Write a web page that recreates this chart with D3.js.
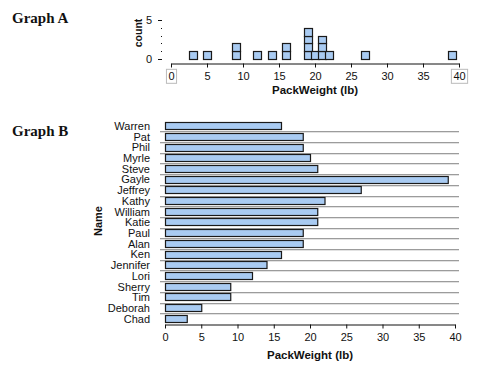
<!DOCTYPE html>
<html>
<head>
<meta charset="utf-8">
<script src="https://cdn.jsdelivr.net/npm/d3@7"></script>
<style>
  body { margin: 0; background: #fff; }
  svg { display: block; }
  text { font-family: 'Liberation Sans', Arial, sans-serif; fill: #111; }
  .ttl { font-family: 'Liberation Serif', 'Times New Roman', serif; font-weight: bold; font-size: 15px; }
</style>
</head>
<body>
<div class="chart"></div>
<script>
var names = ['Warren', 'Pat', 'Phil', 'Myrle', 'Steve', 'Gayle', 'Jeffrey', 'Kathy', 'William', 'Katie',
  'Paul', 'Alan', 'Ken', 'Jennifer', 'Lori', 'Sherry', 'Tim', 'Deborah', 'Chad']
var weights = [16, 19, 19, 20, 21, 39, 27, 22, 21, 21, 19, 19, 16, 14, 12, 9, 9, 5, 3]
var xTicks = [0, 5, 10, 15, 20, 25, 30, 35, 40]
var countTicks = [0, 5]
var countMinor = [1, 2, 3, 4]

var fill = '#a9cbf2', edge = '#1a1a1a'

var svg = d3.select('.chart').append('svg').attr('width', 479).attr('height', 387)

// ---- titles ----
svg.append('text').attr('class', 'ttl').attr('x', 12).attr('y', 23).text('Graph A')
svg.append('text').attr('class', 'ttl').attr('x', 12).attr('y', 136).text('Graph B')

// ============ GRAPH A: dot plot of squares ============
var xa = d3.scaleLinear().domain([0, 40]).range([171, 459])
var ya = d3.scaleLinear().domain([0, 5]).range([59, 20])

var gA = svg.append('g')
var axA = gA.append('g').attr('transform', 'translate(0,63.5)')
  .call(d3.axisBottom(xa).tickValues(xTicks).tickSize(4).tickSizeOuter(0).tickPadding(5))
axA.select('.domain').attr('stroke', '#111')
axA.selectAll('.tick line').attr('stroke', '#111')
axA.selectAll('.tick text').attr('font-size', 11).attr('font-family', 'Liberation Sans, Arial, sans-serif').attr('fill', '#111')
// editable bounds get a grey box in the original
axA.selectAll('.tick').filter(function(d){ return d == 0 || d == 40 }).each(function(){
  var t = d3.select(this).select('text')
  var b = t.node().getBBox()
  d3.select(this).insert('rect', 'text')
    .attr('x', b.x - 2).attr('y', b.y - 1).attr('width', b.width + 4).attr('height', b.height + 2)
    .attr('fill', '#fff').attr('stroke', '#bbb')
})

// count axis: no spine, major ticks + dotted minors
gA.selectAll('line.cmaj').data(countTicks).enter().append('line')
  .attr('x1', 158).attr('x2', 162).attr('y1', function(d){ return ya(d) + 0.5 }).attr('y2', function(d){ return ya(d) + 0.5 })
  .attr('stroke', '#111')
gA.selectAll('rect.cmin').data(countMinor).enter().append('rect')
  .attr('x', 161).attr('y', function(d){ return Math.round(ya(d)) }).attr('width', 1).attr('height', 1)
  .attr('fill', '#111')
gA.selectAll('text.clab').data(countTicks).enter().append('text')
  .attr('x', 152).attr('y', function(d){ return ya(d) + 4 }).attr('text-anchor', 'end')
  .attr('font-size', 11).text(function(d){ return d })
gA.append('text').attr('transform', 'translate(142,33) rotate(-90)').attr('text-anchor', 'middle')
  .attr('font-size', 10.5).attr('font-weight', 'bold').text('count')
gA.append('text').attr('x', 315).attr('y', 94).attr('text-anchor', 'middle')
  .attr('font-size', 11.5).attr('font-weight', 'bold').text('PackWeight (lb)')

// stack one square per person at its weight
var seen = {}
var squares = weights.map(function(w){
  seen[w] = (seen[w] || 0) + 1
  return {w: w, k: seen[w]}
})
gA.selectAll('rect.sq').data(squares).enter().append('rect')
  .attr('x', function(d){ return Math.round(xa(d.w) - 4) + 0.5 })
  .attr('y', function(d){ return Math.round(ya(d.k)) + 0.5 })
  .attr('width', 8).attr('height', function(d){ return Math.round(ya(d.k - 1)) - Math.round(ya(d.k)) })
  .attr('fill', fill).attr('stroke', edge).attr('stroke-width', 1.2)

// ============ GRAPH B: horizontal bars ============
var xb = d3.scaleLinear().domain([0, 40]).range([165, 455])
var yb = d3.scaleBand().domain(names).range([120.6, 324])

var gB = svg.append('g')
// row separators (all but last, which sits on the axis)
var sep = names.slice(0, -1)
gB.selectAll('line.g1').data(sep).enter().append('line')
  .attr('x1', 160).attr('x2', 459)
  .attr('y1', function(d){ return Math.round(yb(d) + yb.bandwidth()) + 0.5 })
  .attr('y2', function(d){ return Math.round(yb(d) + yb.bandwidth()) + 0.5 })
  .attr('stroke', '#9c9c9c')
gB.selectAll('line.g2').data(sep).enter().append('line')
  .attr('x1', 160).attr('x2', 459)
  .attr('y1', function(d){ return Math.round(yb(d) + yb.bandwidth()) + 1.5 })
  .attr('y2', function(d){ return Math.round(yb(d) + yb.bandwidth()) + 1.5 })
  .attr('stroke', '#e2e2e2')

gB.selectAll('rect.bar').data(names).enter().append('rect')
  .attr('x', xb(0) + 0.5)
  .attr('y', function(d){ return Math.round(yb(d) + 1.5) + 0.5 })
  .attr('width', function(d, i){ return xb(weights[i]) - xb(0) })
  .attr('height', 7)
  .attr('fill', fill).attr('stroke', edge).attr('stroke-width', 1.2)

gB.selectAll('text.nm').data(names).enter().append('text')
  .attr('x', 150).attr('y', function(d){ return yb(d) + yb.bandwidth() / 2 + 4 })
  .attr('text-anchor', 'end').attr('font-size', 11).text(function(d){ return d })

var axB = gB.append('g').attr('transform', 'translate(0,324.5)')
  .call(d3.axisBottom(xb).tickValues(xTicks).tickSize(4).tickSizeOuter(0).tickPadding(5))
axB.select('.domain').attr('stroke', '#111')
axB.selectAll('.tick line').attr('stroke', '#111')
axB.selectAll('.tick text').attr('font-size', 11).attr('font-family', 'Liberation Sans, Arial, sans-serif').attr('fill', '#111')

gB.append('text').attr('x', 310).attr('y', 359).attr('text-anchor', 'middle')
  .attr('font-size', 11.5).attr('font-weight', 'bold').text('PackWeight (lb)')
gB.append('text').attr('transform', 'translate(102,221) rotate(-90)').attr('text-anchor', 'middle')
  .attr('font-size', 11).attr('font-weight', 'bold').text('Name')
</script>
</body>
</html>
